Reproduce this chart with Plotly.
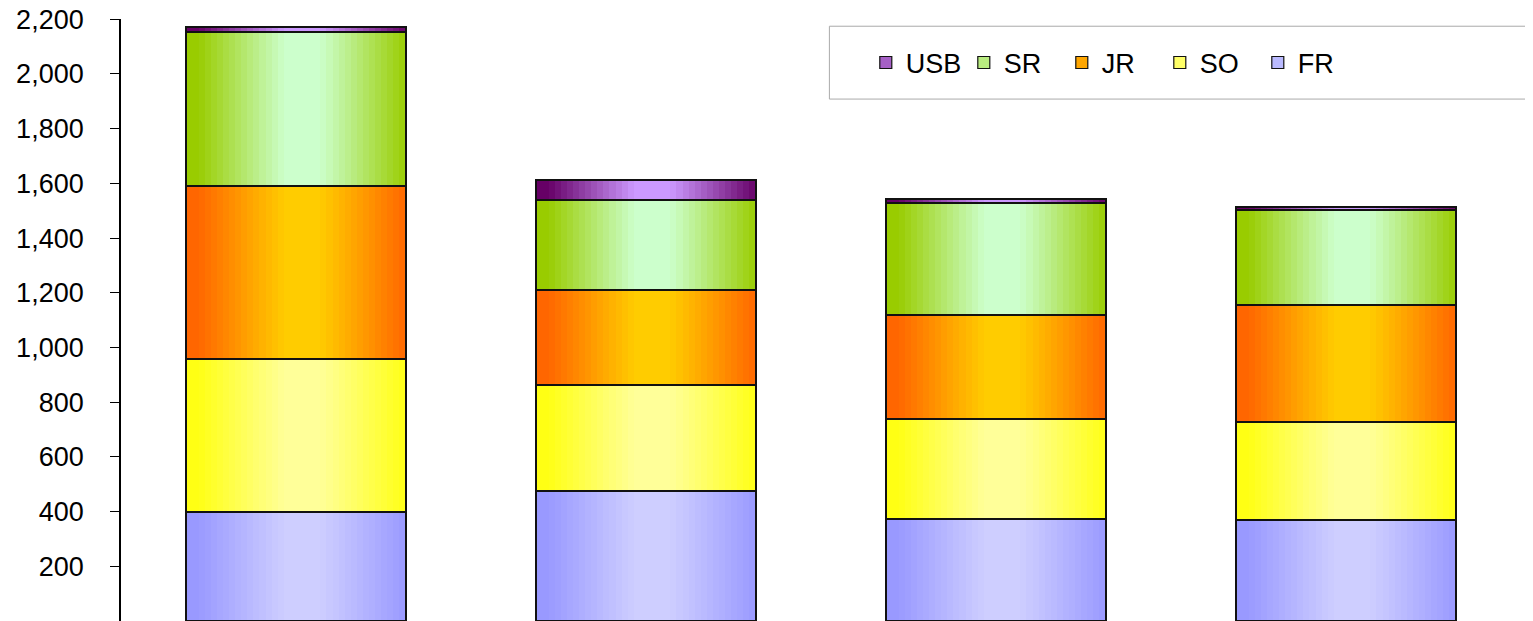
import numpy as np
import plotly.graph_objs as go

# four (unlabelled) columns
categories = ['C1', 'C2', 'C3', 'C4']
series_names = ['FR', 'SO', 'JR', 'SR', 'USB']
fr = [397, 474, 372, 368]
so = [562, 390, 368, 358]
jr = [632, 347, 380, 430]
sr = [562, 328, 409, 347]
usb = [18, 73, 14, 11]
y_ticks = [200, 400, 600, 800, 1000, 1200, 1400, 1600, 1800, 2000, 2200]

# (edge colour, centre colour) of the Excel-style horizontal gradient
colors = {
    'FR': ((153, 153, 255), (206, 206, 255)),
    'SO': ((255, 255, 20), (255, 255, 153)),
    'JR': ((255, 102, 0), (255, 204, 0)),
    'SR': ((153, 204, 0), (204, 255, 204)),
    'USB': ((102, 0, 102), (204, 153, 255)),
}

values = [fr, so, jr, sr, usb]
bases = np.vstack([np.zeros(4), np.cumsum(values, axis=0)[:-1]])

bar_w = 0.626
n_strips = 36
strip_w = bar_w / n_strips


def blend(edge, centre, t):
    # distance from the bright band, 0 = centre colour, 1 = edge colour
    d = np.clip((abs(t - 0.53) - 0.08) / 0.4, 0, 1)
    c = [e * d + m * (1 - d) for e, m in zip(edge, centre)]
    return 'rgb(%d,%d,%d)' % tuple(round(v) for v in c)


fig = go.Figure()

for k, name in enumerate(series_names):
    edge, centre = colors[name]
    # gradient strips
    for i in range(n_strips):
        t = (i + 0.5) / n_strips
        fig.add_trace(go.Bar(
            x=categories, y=values[k], base=bases[k],
            width=strip_w * 1.08 if i < n_strips - 1 else strip_w,
            offset=-bar_w / 2 + i * strip_w,
            marker=dict(color=blend(edge, centre, t), line=dict(width=0)),
            showlegend=False, hoverinfo='skip'
        ))
    # outline on top
    fig.add_trace(go.Bar(
        x=categories, y=values[k], base=bases[k], width=bar_w,
        marker=dict(color='rgba(0,0,0,0)', line=dict(color='#111111', width=2)),
        showlegend=False, name=name,
        hovertemplate=name + ': %{y:,}<extra></extra>'
    ))

# legend entries (USB first ... FR last)
for rank, name in enumerate(reversed(series_names)):
    edge, centre = colors[name]
    fig.add_trace(go.Bar(
        x=[None], y=[None], name=name, legendrank=rank + 1,
        marker=dict(color=blend(edge, centre, 0.3), line=dict(color='#111111', width=1.2))
    ))

# legend frame, open to the right (runs off the picture)
fig.add_shape(type='rect', xref='paper', yref='paper',
              x0=0.506, x1=1.2, y0=0.867, y1=0.988,
              line=dict(width=0), fillcolor='white', layer='above')
for x0, x1, y0, y1 in [(0.506, 1.2, 0.867, 0.867), (0.506, 1.2, 0.988, 0.988),
                       (0.506, 0.506, 0.867, 0.988)]:
    fig.add_shape(type='line', xref='paper', yref='paper', x0=x0, x1=x1, y0=y0, y1=y1,
                  line=dict(color='#aaaaaa', width=1), layer='above')

fig.update_xaxes(range=[-0.5, 3.5], showticklabels=False, showgrid=False,
                 zeroline=False, showline=False, ticks='')
fig.update_yaxes(range=[0, 2201], tickvals=y_ticks, tickformat=',d',
                 showgrid=False, zeroline=False, showline=True,
                 linecolor='black', linewidth=1.8, ticks='outside',
                 ticklen=9, tickcolor='black', tickwidth=1, ticklabelstandoff=21,
                 automargin=False, ticklabeloverflow='allow', tickfont=dict(size=27))

fig.update_layout(
    width=1525, height=613,
    barmode='overlay', bargap=0,
    plot_bgcolor='white', paper_bgcolor='white',
    margin=dict(l=113, r=12, t=11, b=0),
    font=dict(family='Liberation Sans, Arial, sans-serif', size=27, color='black'),
    legend=dict(orientation='h', x=0.532, xanchor='left', y=0.927, yanchor='middle',
                bgcolor='rgba(0,0,0,0)', borderwidth=0,
                font=dict(family='Liberation Sans, Arial', size=27),
                entrywidth=53, entrywidthmode='pixels', itemwidth=30),
    showlegend=True
)

fig.write_html("out.html")
